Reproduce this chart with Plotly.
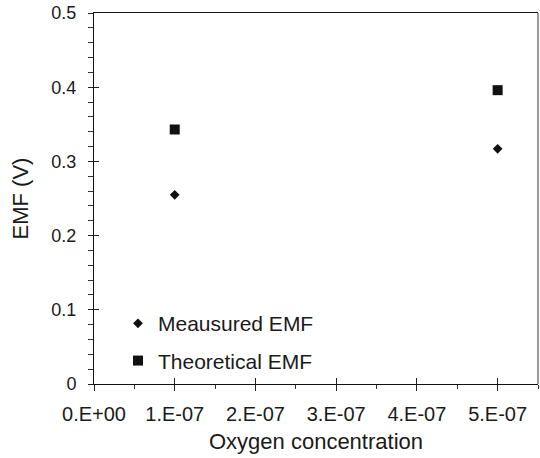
import plotly.graph_objects as go

# Data
x_conc = [1e-7, 5e-7]
measured_emf = [0.255, 0.317]
theoretical_emf = [0.343, 0.396]

x_tickvals = [0, 1e-7, 2e-7, 3e-7, 4e-7, 5e-7]
x_ticktext = ["0.E+00", "1.E-07", "2.E-07", "3.E-07", "4.E-07", "5.E-07"]
y_tickvals = [0, 0.1, 0.2, 0.3, 0.4, 0.5]
y_ticktext = ["0", "0.1", "0.2", "0.3", "0.4", "0.5"]

FONT = "Liberation Sans, Arial, sans-serif"
INK = "#111111"

fig = go.Figure()
fig.add_trace(go.Scatter(
    x=x_conc, y=measured_emf, mode="markers", name="Meausured EMF",
    legendgroup="a",
    marker=dict(symbol="diamond", size=7.5, color=INK),
))
fig.add_trace(go.Scatter(
    x=x_conc, y=theoretical_emf, mode="markers", name="Theoretical EMF",
    legendgroup="b",
    marker=dict(symbol="square", size=10, color=INK),
))
# invisible trace to host the overlay axes (inner halves of major ticks)
fig.add_trace(go.Scatter(
    x=x_conc, y=measured_emf, mode="markers", xaxis="x2", yaxis="y2",
    showlegend=False, hoverinfo="skip", marker=dict(opacity=0),
))

xr = [0, 5.5e-7]
yr = [0, 0.5]

fig.update_layout(
    width=540, height=458,
    margin=dict(l=94, r=2, t=13, b=74),
    paper_bgcolor="white", plot_bgcolor="white",
    font=dict(family=FONT, color="#1a1a1a"),
    showlegend=True,
    legend=dict(
        x=0.054, y=0.218, xanchor="left", yanchor="top",
        font=dict(family=FONT, size=21, color="#1a1a1a"),
        bgcolor="rgba(0,0,0,0)", borderwidth=0,
        traceorder="grouped", tracegroupgap=7, itemwidth=30,
    ),
    xaxis=dict(
        range=xr, tickmode="array", tickvals=x_tickvals, ticktext=x_ticktext,
        ticks="outside", ticklen=6, tickwidth=1, tickcolor="#222",
        showline=True, linecolor="#111", linewidth=1, mirror=True,
        showgrid=False, zeroline=False,
        tickfont=dict(family=FONT, size=20, color="#1a1a1a"),
        ticklabelstandoff=6,
        minor=dict(dtick=0.5e-7, tick0=0, ticks="outside", ticklen=4,
                   tickwidth=1, tickcolor="#333", showgrid=False),
        title=dict(text="Oxygen concentration", standoff=9,
                   font=dict(family=FONT, size=22, color="#1a1a1a")),
    ),
    yaxis=dict(
        range=yr, tickmode="array", tickvals=y_tickvals, ticktext=y_ticktext,
        ticks="outside", ticklen=5, tickwidth=1, tickcolor="#222",
        showline=True, linecolor="#111", linewidth=1,
        showgrid=False, zeroline=False,
        tickfont=dict(family=FONT, size=18, color="#1a1a1a"),
        ticklabelstandoff=8,
        minor=dict(dtick=0.02, tick0=0, ticks="outside", ticklen=5,
                   tickwidth=1, tickcolor="#333", showgrid=False),
        title=dict(text="EMF (V)", standoff=16,
                   font=dict(family=FONT, size=22, color="#1a1a1a")),
    ),
    xaxis2=dict(
        range=xr, overlaying="x", anchor="y2", side="bottom",
        tickmode="array", tickvals=x_tickvals, ticks="inside", ticklen=6,
        tickcolor="#222", showticklabels=False, showline=False,
        showgrid=False, zeroline=False,
    ),
    yaxis2=dict(
        range=yr, overlaying="y", anchor="x2", side="left",
        tickmode="array", tickvals=y_tickvals, ticks="inside", ticklen=5,
        tickcolor="#222", showticklabels=False, showline=False,
        showgrid=False, zeroline=False,
    ),
    shapes=[dict(type="line", xref="paper", yref="paper", x0=1, x1=1,
                 y0=0, y1=1, line=dict(color="#999999", width=2))],
)

fig.write_html("out.html")
